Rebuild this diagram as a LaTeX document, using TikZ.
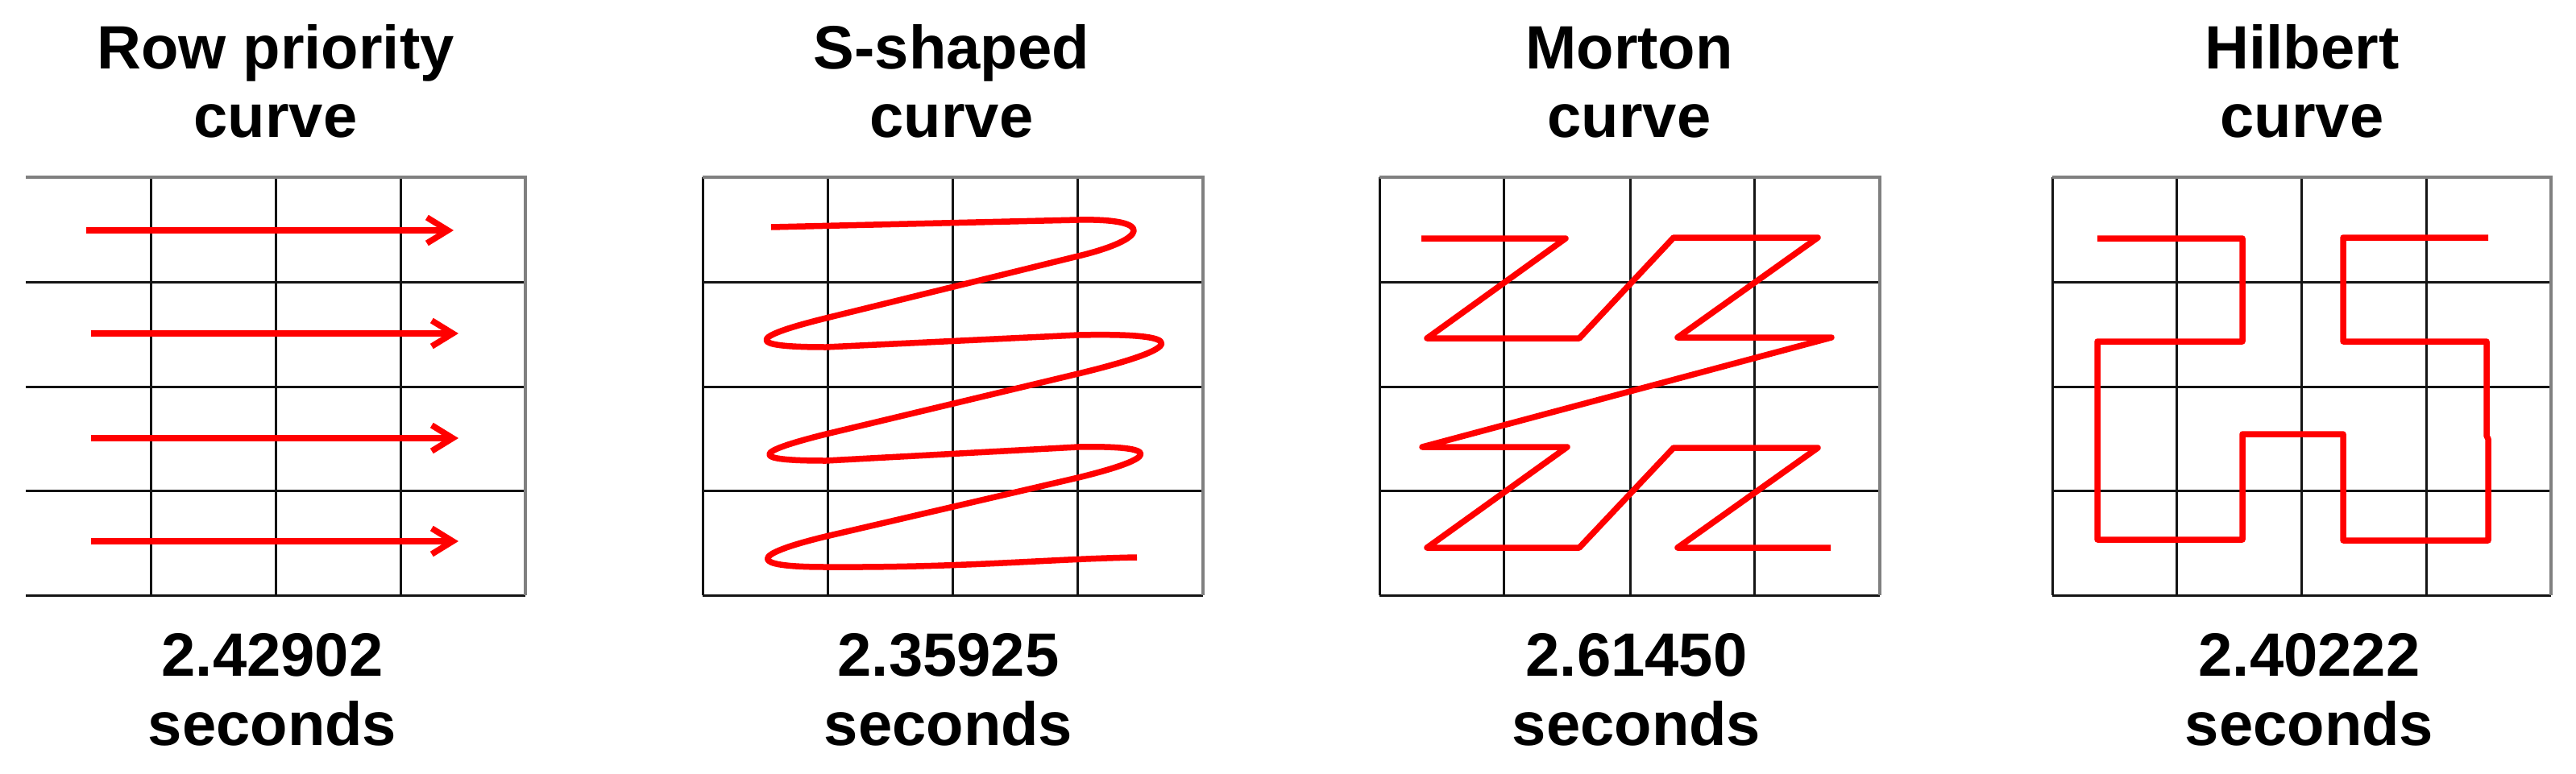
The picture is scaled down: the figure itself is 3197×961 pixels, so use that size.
\documentclass[tikz,border=0pt]{standalone}
\usepackage{fontspec}
\setmainfont{Liberation Sans}
\usetikzlibrary{arrows.meta}
\begin{document}
\begin{tikzpicture}[x=1pt,y=-1pt,
  gridline/.style={line width=3pt, black!92},
  frameline/.style={line width=4pt, black!50},
  curve/.style={line width=7.5pt, red, line join=round},
  rowarrow/.style={curve, -{Straight Barb[length=26pt,width=32pt,line width=7.5pt]}},
  lbl/.style={anchor=base, inner sep=0pt, font=\fontsize{76}{90}\selectfont\bfseries}]
\useasboundingbox (0,0) rectangle (3197,961);

% ---------- Panel 1: Row priority curve ----------
\draw[gridline] (32,350)--(652,350) (32,480)--(652,480) (32,609)--(652,609) (32,739)--(652,739);
\draw[gridline] (187,220)--(187,739) (342,220)--(342,739) (497,220)--(497,739);
\draw[frameline] (32,220)--(652,220)--(652,739);
\coordinate (a1s) at (107,286); \coordinate (a1e) at (563,286);
\coordinate (a2s) at (113,414); \coordinate (a2e) at (569,414);
\coordinate (a3s) at (113,544); \coordinate (a3e) at (569,544);
\coordinate (a4s) at (113,672); \coordinate (a4e) at (569,672);
\draw[rowarrow] (a1s) -- (a1e);
\draw[rowarrow] (a2s) -- (a2e);
\draw[rowarrow] (a3s) -- (a3e);
\draw[rowarrow] (a4s) -- (a4e);
\node[lbl] (t1a) at (342,85) {Row priority};
\node[lbl] (t1b) at (342,170) {curve};
\node[lbl] (v1a) at (338,839) {2.42902};
\node[lbl] (v1b) at (338,925) {seconds};

% ---------- Panel 2: S-shaped curve ----------
\draw[gridline] (872,350)--(1493,350) (872,480)--(1493,480) (872,609)--(1493,609) (872,739)--(1493,739);
\draw[gridline] (872,220)--(872,739) (1027,220)--(1027,739) (1182,220)--(1182,739) (1337,220)--(1337,739);
\draw[frameline] (872,220)--(1493,220)--(1493,739);
\draw[curve] (957,282) -- (1338,273)
  .. controls (1435,271) and (1425,297) .. (1338,318)
  -- (1025,395)
  .. controls (928,419) and (925,431) .. (1025,431)
  -- (1338,416)
  .. controls (1478,413) and (1474,431) .. (1338,464)
  -- (1025,539)
  .. controls (933,562) and (930,572) .. (1025,572)
  -- (1338,555)
  .. controls (1443,553) and (1440,568) .. (1338,593)
  -- (1025,666)
  .. controls (930,689) and (927,704) .. (1025,704)
  .. controls (1200,705) and (1300,694) .. (1411,692);
\node[lbl] (t2a) at (1181,85) {S-shaped};
\node[lbl] (t2b) at (1181,170) {curve};
\node[lbl] (v2a) at (1177,839) {2.35925};
\node[lbl] (v2b) at (1177,925) {seconds};

% ---------- Panel 3: Morton curve ----------
\draw[gridline] (1712,350)--(2333,350) (1712,480)--(2333,480) (1712,609)--(2333,609) (1712,739)--(2333,739);
\draw[gridline] (1712,220)--(1712,739) (1866,220)--(1866,739) (2023,220)--(2023,739) (2177,220)--(2177,739);
\draw[frameline] (1712,220)--(2333,220)--(2333,739);
\draw[curve] (1764,296) -- (1943,296) -- (1771,420) -- (1960,420)
  -- (2077,295) -- (2256,295) -- (2082,419) -- (2273,419)
  -- (1765,555) -- (1945,555) -- (1771,680) -- (1960,680)
  -- (2077,556) -- (2256,556) -- (2082,680) -- (2272,680);
\node[lbl] (t3a) at (2022,85) {Morton};
\node[lbl] (t3b) at (2022,170) {curve};
\node[lbl] (v3a) at (2031,839) {2.61450};
\node[lbl] (v3b) at (2031,925) {seconds};

% ---------- Panel 4: Hilbert curve ----------
\draw[gridline] (2547,350)--(3166,350) (2547,480)--(3166,480) (2547,609)--(3166,609) (2547,739)--(3166,739);
\draw[gridline] (2547,220)--(2547,739) (2701,220)--(2701,739) (2856,220)--(2856,739) (3011,220)--(3011,739);
\draw[frameline] (2547,220)--(3166,220)--(3166,739);
\draw[curve] (2603,296) -- (2783,296) -- (2783,424) -- (2603,424)
  -- (2603,670) -- (2783,670) -- (2783,539) -- (2908,539)
  -- (2908,671) -- (3088,671) -- (3088,545) -- (3086,541) -- (3086,424)
  -- (2908,424) -- (2908,295) -- (3088,295);
\node[lbl] (t4a) at (2857,85) {Hilbert};
\node[lbl] (t4b) at (2857,170) {curve};
\node[lbl] (v4a) at (2866,839) {2.40222};
\node[lbl] (v4b) at (2866,925) {seconds};
\end{tikzpicture}
\end{document}
